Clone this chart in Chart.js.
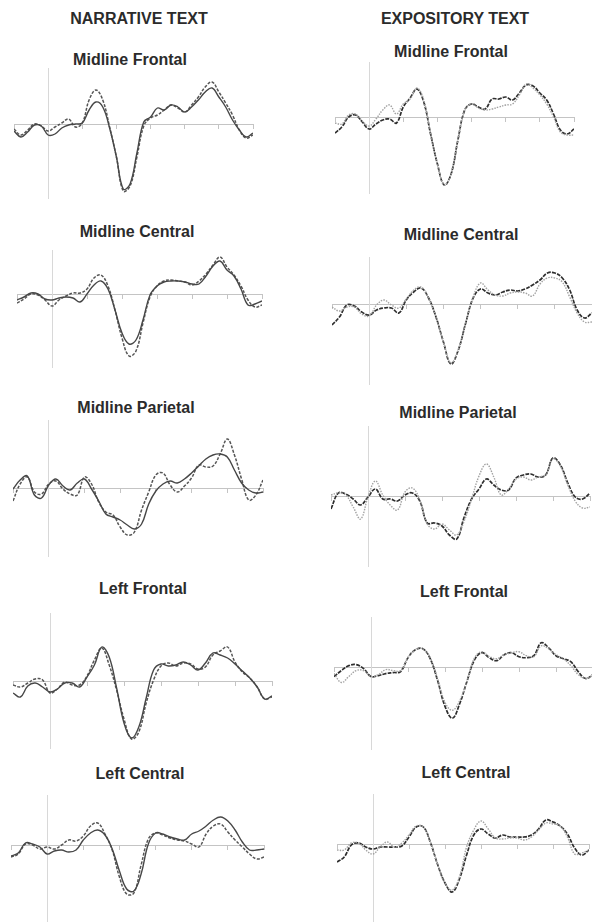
<!DOCTYPE html>
<html><head><meta charset="utf-8">
<script src="https://cdn.jsdelivr.net/npm/chart.js@4.4.1/dist/chart.umd.min.js"></script>
<style>
html,body{margin:0;padding:0;background:#fff;}
body{width:592px;height:922px;position:relative;overflow:hidden;font-family:'Liberation Sans',Arial,sans-serif;}
.t{position:absolute;transform:translate(-50%,-50%);white-space:nowrap;font-weight:bold;font-size:16px;color:#2b2b2b;}
canvas{position:absolute;}
</style></head><body>
<script>
// time points (ms)
const times = [-100,-80,-60,-40,-20,0,20,40,60,80,100,120,140,160,180,200,220,240,260,280,300,320,340,360,380,400,420,440,460,480,500,520,540,560,580,600];

const columnHeaders = ['NARRATIVE TEXT', 'EXPOSITORY TEXT'];
const panelTitles = ['Midline Frontal','Midline Frontal','Midline Central','Midline Central','Midline Parietal','Midline Parietal','Left Frontal','Left Frontal','Left Central','Left Central'];

// amplitudes (µV) - series A (dashed), series B
const narrMidFrontalA = [-0.5,-1.1,-0.6,0,-0.2,-0.7,-0.3,0.1,0.5,-0.3,0.1,2.4,3.4,2.4,-0.3,-3.3,-6.7,-6.2,-3.3,-0.2,0.6,0.9,1.4,1.9,1.6,1.2,1.9,2.7,3.7,4.2,3.2,2.1,0.9,-0.6,-1.4,-1.1];
const narrMidFrontalB = [-0.7,-1.3,-0.8,-0.1,-0.2,-1.1,-1.0,-0.4,-0.1,0,0.1,1.4,2.2,1.7,-0.4,-3.3,-6.5,-6.0,-2.9,0.2,0.7,1.6,1.4,1.9,1.7,1.2,1.7,2.4,3.2,3.6,2.7,1.7,0.4,-0.6,-1.3,-0.9];
const expoMidFrontalA = [-1.6,-1.0,0,0.2,-0.5,-1.2,-0.7,-0.3,-0.2,-0.6,1.0,1.9,2.8,1.5,-1.7,-4.7,-6.8,-5.7,-2.3,0.7,1.3,1.0,0.8,1.8,1.8,2.0,1.7,2.4,3.2,3.1,2.4,1.7,0.3,-1.3,-1.7,-1.2];
const expoMidFrontalB = [-0.6,-0.7,0.2,0.3,-0.4,-0.9,-0.2,0.7,1.2,0.3,1.3,1.8,2.9,1.7,-1.7,-4.7,-6.8,-5.7,-2.3,0.7,1.3,0.9,0.7,0.8,1.0,1.2,1.3,2.2,3.3,2.9,2.2,1.3,0,-1.5,-1.8,-1.8];
const narrMidCentralA = [-0.9,-0.5,0,-0.1,-0.6,-1.2,-0.6,-0.2,0.1,0.1,0.5,1.6,1.9,0.8,-1.6,-4.4,-6.2,-5.7,-2.9,-0.3,0.8,1.3,1.4,1.3,1.2,0.9,1.3,2.0,2.9,3.7,2.7,1.9,0.8,-0.6,-1.3,-1.1];
const narrMidCentralB = [-0.6,-0.3,0.1,0,-0.5,-0.6,-0.4,-0.3,-0.4,-0.8,0,0.9,1.3,0.5,-1.6,-3.9,-5.0,-4.6,-2.6,-0.1,0.8,1.2,1.3,1.3,1.2,1.0,1.0,1.8,2.8,3.3,2.4,1.8,0.5,-1.1,-1.0,-0.7];
const expoMidCentralA = [-2.0,-1.2,0,-0.1,-0.7,-1.0,-0.5,-0.3,-0.3,-0.8,0.5,1.3,1.7,0.7,-1.2,-3.7,-5.9,-4.5,-1.8,0.7,1.6,1.2,1.0,1.3,1.5,1.4,1.6,2.0,2.5,3.2,3.2,2.7,1.5,-0.5,-1.3,-0.8];
const expoMidCentralB = [-0.2,-0.6,-0.2,-0.2,-0.9,-1.1,0,0.5,0,-0.3,0.6,1.5,1.8,0.7,-1.2,-3.7,-5.8,-4.5,-1.8,0.8,2.2,1.5,1.0,0.9,1.2,1.3,1.2,0.9,2.1,2.7,2.7,2.3,0.8,-0.8,-1.7,-1.7];
const narrMidParietalA = [-1.3,0.4,1.1,-0.4,-0.6,0.4,0.7,-0.1,-0.6,-0.7,1.1,0.4,-1.4,-2.4,-2.7,-3.9,-4.7,-4.4,-2.2,-0.4,1.3,1.5,0.3,-0.4,0.2,1.0,2.3,2.1,2.2,3.4,4.9,3.3,0.9,-1.2,-0.7,0.8];
const narrMidParietalB = [-0.1,0.8,1.2,-0.7,-1.0,0.3,0.9,0.2,-0.2,0.5,0.9,-0.1,-1.3,-2.6,-2.9,-3.2,-3.7,-4.1,-3.6,-1.6,-0.3,0.4,0.7,0.5,0.9,1.5,2.2,2.9,3.3,3.4,3.1,1.8,0.5,-0.2,-0.5,-0.4];
const expoMidParietalA = [-1.3,0.3,0.2,-0.3,-0.9,-0.1,0.7,-0.3,-0.3,-0.5,0.1,0.3,-0.5,-2.7,-2.7,-3.0,-3.9,-4.3,-2.1,-0.3,0.7,1.7,1.1,0.6,0.6,1.8,2.1,2.2,1.9,2.1,3.8,3.1,1.3,-0.1,-0.3,0.3];
const expoMidParietalB = [0.1,0.3,0.1,-1.1,-2.3,-0.1,1.5,0.1,-0.9,-1.4,0.4,0.8,-0.4,-2.8,-3.3,-2.8,-3.4,-3.9,-2.5,-0.3,2.0,3.2,1.9,0.1,0.7,1.7,1.9,1.6,1.9,2.1,3.7,3.0,1.1,-0.5,-1.2,-1.1];
const narrLeftFrontalA = [-0.4,-0.6,-0.2,0.2,0.1,-1.2,-0.8,-0.1,-0.4,-0.4,0.5,2.1,3.3,1.6,-0.9,-3.8,-5.8,-5.1,-2.2,0.1,1.5,1.8,1.5,1.8,1.7,1.2,1.4,2.6,3.0,3.4,1.9,0.9,0.3,-0.6,-1.8,-1.6];
const narrLeftFrontalB = [-1.2,-1.6,-0.5,-0.2,-0.6,-1.1,-0.8,-0.2,-0.2,-0.6,0.4,1.6,3.4,2.4,-0.7,-4.2,-5.7,-4.6,-1.7,1.1,1.7,1.5,1.6,1.9,1.6,1.1,1.8,2.8,2.6,2.3,1.7,1.0,0.3,-0.6,-1.8,-1.5];
const expoLeftFrontalA = [-0.9,-0.3,0.2,0.3,-0.1,-0.9,-0.8,-0.6,-0.5,-0.4,1.0,1.8,1.9,0.9,-1.3,-3.9,-5.1,-3.6,-1.3,0.8,1.5,1.0,0.7,1.3,1.5,1.1,1.0,1.2,2.5,2.0,1.2,0.9,0.6,-0.4,-1.1,-0.7];
const expoLeftFrontalB = [-0.6,-1.5,-0.9,-0.3,-0.3,-0.9,-0.7,-0.2,-0.3,-0.3,1.0,1.8,1.9,1.0,-1.1,-3.5,-4.3,-3.3,-1.3,1.0,1.6,1.1,0.9,1.3,1.5,1.6,1.2,1.1,2.2,1.9,1.3,0.9,0.2,-0.7,-1.1,-0.8];
const narrLeftCentralA = [-1.1,-0.8,0.2,0.1,-0.3,-0.1,-0.3,0.1,0.6,0.5,1.0,2.0,2.3,1.2,-0.4,-3.1,-4.8,-4.7,-1.9,0.7,1.3,1.1,0.8,0.6,0.5,0.2,-0.1,1.2,2.0,2.2,1.4,0.6,-0.1,-0.8,-1.3,-1.1];
const narrLeftCentralB = [-1.0,-0.7,0.3,0.2,-0.1,-0.8,-0.5,-0.4,-0.6,-0.4,0.6,1.3,1.6,1.1,-0.3,-2.5,-4.3,-4.5,-2.8,0.2,1.3,1.2,0.9,0.7,0.6,1.2,1.5,2.0,2.6,2.9,2.5,1.6,0.4,-0.4,-0.4,-0.3];
const expoLeftCentralA = [-1.8,-1.3,-0.1,0.1,-0.3,-0.5,-0.3,-0.3,-0.3,-0.2,0.7,1.7,1.7,0.1,-2.1,-3.9,-4.8,-3.5,-1.1,0.9,1.5,1.0,0.6,0.9,0.7,0.7,0.7,0.9,1.5,2.4,2.2,1.8,1.0,-0.4,-1.1,-0.6];
const expoLeftCentralB = [-0.6,-0.6,0.1,0.1,-0.6,-1.0,-0.3,0.2,-0.3,0.1,0.9,1.8,1.7,0.1,-2.1,-3.9,-4.6,-3.3,-0.3,1.4,2.3,1.5,0.6,0.5,0.6,0.6,0.4,0.7,1.4,2.1,2.0,1.8,0.7,-1.0,-0.9,-0.6];

// y-axis extents per panel (µV)
const yMax = [5.6, 5.5, 4.4, 4.8, 6.8, 7.0, 6.8, 5.1, 5.1, 5.0];
const yMin = [-7.4, -7.6, -7.3, -7.9, -6.8, -7.0, -6.7, -8.2, -7.6, -7.8];

const seriesA = [narrMidFrontalA, expoMidFrontalA, narrMidCentralA, expoMidCentralA, narrMidParietalA, expoMidParietalA, narrLeftFrontalA, expoLeftFrontalA, narrLeftCentralA, expoLeftCentralA];
const seriesB = [narrMidFrontalB, expoMidFrontalB, narrMidCentralB, expoMidCentralB, narrMidParietalB, expoMidParietalB, narrLeftFrontalB, expoLeftFrontalB, narrLeftCentralB, expoLeftCentralB];

// layout (pixels): plot box left/right (x=-100 / x=600), top/bottom, title centre
const layout = [
  {l:14, r:253, t:68, b:198, tx:130, ty:60},
  {l:335, r:574, t:62, b:193, tx:451, ty:52},
  {l:17, r:262, t:250, b:367, tx:137, ty:232},
  {l:332, r:592, t:257, b:384, tx:461, ty:235},
  {l:13, r:263, t:420, b:556, tx:136, ty:408},
  {l:331, r:590, t:426, b:566, tx:458, ty:413},
  {l:13, r:272, t:613, b:748, tx:143, ty:589},
  {l:334, r:593, t:617, b:749, tx:464, ty:592},
  {l:11, r:264, t:795, b:922, tx:140, ty:774},
  {l:337, r:589, t:794, b:922, tx:466, ty:773}
];

function addText(txt, x, y) {
  const d = document.createElement('div');
  d.className = 't';
  d.textContent = txt;
  d.style.left = x + 'px';
  d.style.top = y + 'px';
  document.body.appendChild(d);
}
addText(columnHeaders[0], 139, 19);
addText(columnHeaders[1], 455, 19);

const PAD = 6;
layout.forEach((L, i) => {
  addText(panelTitles[i], L.tx, L.ty);
  const cv = document.createElement('canvas');
  const w = L.r - L.l + 2 * PAD, h = L.b - L.t + 2 * PAD;
  cv.width = w; cv.height = h;
  cv.style.width = w + 'px'; cv.style.height = h + 'px';
  cv.style.left = (L.l - PAD) + 'px'; cv.style.top = (L.t - PAD) + 'px';
  document.body.appendChild(cv);
  const expo = i % 2 === 1;
  const styleB = expo
    ? {borderColor: '#a2a2a2', borderWidth: 1.4, borderDash: [1.5, 1.2]}
    : {borderColor: '#474747', borderWidth: 1.4, borderDash: []};
  const styleA = expo
    ? {borderColor: '#2e2e2e', borderWidth: 1.7, borderDash: [4, 1.2]}
    : {borderColor: '#555555', borderWidth: 1.5, borderDash: [3, 1.5]};
  new Chart(cv, {
    type: 'line',
    data: {
      datasets: [
        Object.assign({label: 'B', data: times.map((t, k) => ({x: t, y: seriesB[i][k]})), pointRadius: 0, tension: 0.4, fill: false}, styleB),
        Object.assign({label: 'A', data: times.map((t, k) => ({x: t, y: seriesA[i][k]})), pointRadius: 0, tension: 0.4, fill: false}, styleA)
      ]
    },
    options: {
      responsive: false, animation: false, devicePixelRatio: 1,
      layout: {padding: PAD},
      plugins: {legend: {display: false}, tooltip: {enabled: false}},
      scales: {
        x: {type: 'linear', min: -100, max: 600, position: {y: 0},
            ticks: {display: false, stepSize: 100},
            grid: {drawOnChartArea: false, drawTicks: true, tickLength: 4, color: '#c4c4c4'},
            border: {display: true, color: '#c4c4c4', width: 1}},
        y: {type: 'linear', min: yMin[i], max: yMax[i], position: {x: 0},
            ticks: {display: false},
            grid: {display: false},
            border: {display: true, color: '#d8d8d8', width: 1}}
      }
    }
  });
});
</script>
</body></html>
